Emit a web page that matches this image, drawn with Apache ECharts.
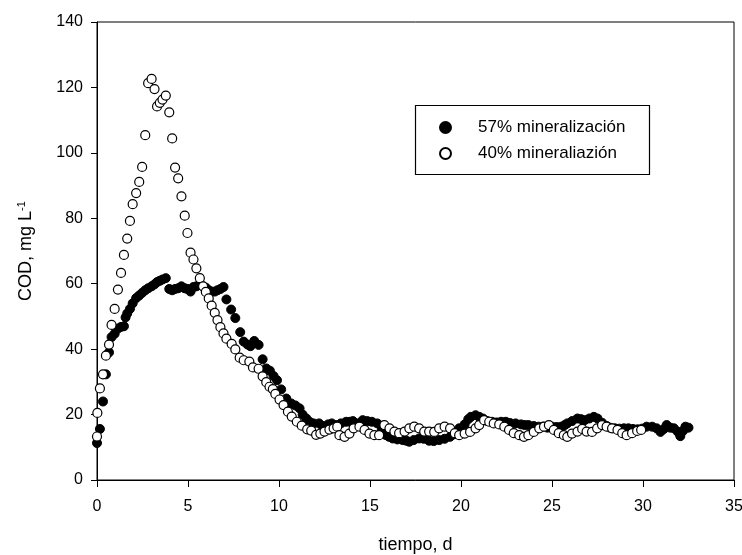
<!DOCTYPE html>
<html>
<head>
<meta charset="utf-8">
<script src="https://cdn.jsdelivr.net/npm/echarts@6/dist/echarts.min.js"></script>
<style>
html,body{margin:0;padding:0;background:#fff;}
#chart{width:742px;height:555px;}
</style>
</head>
<body>
<div id="chart"></div>
<script>
// Series: 57% mineralización (filled circles)
const t57 = [0.0,0.16,0.33,0.49,0.66,0.80,0.97,1.15,1.32,1.48,1.57,1.66,1.81,1.96,2.15,2.32,2.48,2.65,2.81,3.0,3.16,3.3,3.45,3.6,3.78,3.97,4.13,4.29,4.46,4.64,4.82,4.97,5.14,5.30,5.46,5.65,5.83,5.98,6.14,6.30,6.47,6.62,6.78,6.95,7.11,7.37,7.60,7.87,8.06,8.27,8.43,8.64,8.88,9.10,9.30,9.50,9.70,9.89,10.12,10.40,10.67,10.90,11.13,11.30,11.50,11.68,11.90,12.20,12.40,12.70,12.90,13.10,13.40,13.69,13.90,14.06,14.30,14.60,14.85,15.10,15.40,15.65,15.88,16.05,16.25,16.50,16.80,17.00,17.16,17.40,17.70,17.95,18.25,18.50,18.80,19.10,19.40,19.65,19.90,20.20,20.40,20.54,20.80,21.00,21.20,21.45,21.70,21.95,22.20,22.46,22.70,23.00,23.30,23.50,23.70,24.00,24.25,24.50,24.75,25.00,25.25,25.50,25.70,25.84,26.10,26.40,26.60,26.80,27.05,27.30,27.50,27.75,28.00,28.20,28.45,28.70,28.95,29.20,29.45,29.70,29.95,30.20,30.50,30.75,30.96,31.15,31.30,31.50,31.70,31.90,32.05,32.20,32.33,32.50];
const cod57 = [11.3,15.6,24.0,32.3,39.0,43.7,44.7,46.3,46.8,47.0,49.7,50.9,52.3,54.0,55.6,56.4,57.2,58.0,58.6,59.2,59.8,60.5,60.9,61.3,61.7,58.4,58.0,58.4,58.6,59.2,58.6,58.4,57.6,59.0,59.2,59.6,59.2,58.8,58.0,57.6,57.6,58.0,58.4,59.0,55.2,52.1,49.5,45.2,42.3,41.4,40.9,42.5,41.3,36.9,34.1,33.4,31.8,30.5,27.7,24.9,23.4,22.8,21.9,20.0,18.8,17.8,17.3,17.3,16.5,17.0,17.3,16.8,17.3,17.8,17.8,18.0,17.3,18.3,18.0,17.8,17.3,15.5,13.7,13.2,12.7,12.4,12.2,12.0,11.7,12.2,12.7,12.6,12.0,11.9,12.2,12.6,13.2,14.0,15.8,17.0,18.6,19.3,19.8,19.3,18.8,18.0,17.8,17.6,17.8,17.8,17.4,17.3,17.0,16.8,16.8,16.5,16.3,16.3,16.0,16.3,16.2,16.3,16.8,17.3,18.0,18.8,18.6,18.3,18.8,19.3,18.8,17.5,16.5,16.0,15.8,15.7,15.8,15.8,15.6,15.5,15.7,16.3,16.3,15.8,14.7,15.6,16.8,16.0,15.8,14.8,13.4,15.0,16.3,16.0];

// Series: 40% mineraliazión (open circles)
const t40 = [0.0,0.02,0.16,0.33,0.49,0.66,0.80,0.97,1.15,1.32,1.48,1.66,1.81,1.96,2.15,2.32,2.48,2.65,2.81,3.0,3.16,3.3,3.45,3.6,3.78,3.97,4.13,4.29,4.46,4.64,4.82,4.97,5.14,5.30,5.46,5.65,5.83,5.98,6.14,6.30,6.47,6.62,6.78,6.95,7.11,7.40,7.60,7.84,8.06,8.37,8.57,8.88,9.10,9.30,9.48,9.66,9.80,10.03,10.25,10.49,10.70,10.98,11.25,11.55,11.77,12.04,12.27,12.50,12.77,13.00,13.20,13.32,13.60,13.87,14.10,14.42,14.70,14.97,15.24,15.50,15.79,16.07,16.34,16.60,16.90,17.16,17.43,17.70,17.98,18.25,18.53,18.80,19.10,19.40,19.66,19.90,20.20,20.50,20.80,21.00,21.27,21.55,21.80,22.10,22.38,22.64,22.90,23.20,23.46,23.70,24.00,24.30,24.56,24.83,25.10,25.37,25.65,25.84,26.10,26.40,26.66,26.90,27.20,27.48,27.75,28.00,28.30,28.60,28.86,29.10,29.40,29.68,29.90];
const cod40 = [13.3,20.5,28.0,32.3,38.0,41.4,47.4,52.3,58.2,63.3,68.8,73.8,79.2,84.3,87.7,91.1,95.7,105.4,121.3,122.6,119.5,114.2,115.3,116.3,117.5,112.4,104.4,95.5,92.2,86.7,80.8,75.5,69.5,67.4,64.7,61.7,59.2,57.5,55.5,53.3,51.1,48.9,46.7,44.8,43.2,41.6,39.9,37.4,36.6,36.2,34.4,34.0,31.7,29.9,28.5,27.8,26.3,24.6,22.9,20.9,19.4,17.8,16.6,15.5,15.1,13.8,14.2,14.8,15.4,15.8,16.3,13.7,13.2,14.2,15.8,16.3,15.3,14.2,13.7,13.7,16.8,15.8,14.8,14.3,14.8,15.8,16.3,15.8,14.8,14.8,14.7,15.8,16.3,15.8,14.3,13.7,14.2,14.7,15.8,16.8,18.3,17.8,17.3,17.0,16.3,15.3,14.3,13.7,13.2,13.7,14.7,15.8,16.3,16.8,15.3,14.3,13.7,13.2,14.2,14.8,15.6,14.8,14.7,15.8,16.8,16.3,15.8,15.3,14.3,13.7,14.3,15.0,15.3];

const xTicks = [0,5,10,15,20,25,30,35];
const yTicks = [0,20,40,60,80,100,120,140];

const name57 = '57% mineralización';
const name40 = '40% mineraliazión';

const FONT = '"Liberation Sans", Arial, sans-serif';

const chart = echarts.init(document.getElementById('chart'), null, {renderer:'canvas'});
const pairs = (xs, ys) => xs.map((x, i) => [x, ys[i]]);

chart.setOption({
  animation: false,
  backgroundColor: '#fff',
  grid: {left: 97, right: 8, top: 22, bottom: 75, show: true, borderColor: '#000', borderWidth: 1, containLabel: false, outerBoundsMode: 'none'},
  graphic: [{
    type: 'rect', left: 413, top: 103,
    shape: {width: 234, height: 69},
    style: {fill: 'none', stroke: '#000', lineWidth: 1.2},
    z: 10
  }],
  legend: {
    orient: 'vertical', left: 434, top: 114, itemGap: 9,
    itemWidth: 11, itemHeight: 11,
    textStyle: {fontFamily: FONT, fontSize: 17, color: '#000', padding: [0, 0, 0, 22]},
    data: [{name: name57, icon: 'circle'}, {name: name40, icon: 'circle'}]
  },
  xAxis: {
    type: 'value', min: xTicks[0], max: xTicks[xTicks.length-1], interval: 5,
    name: 'tiempo, d', nameLocation: 'middle', nameGap: 56,
    nameTextStyle: {fontFamily: FONT, fontSize: 18, color: '#000'},
    axisLine: {show: true, lineStyle: {color: '#000', width: 1}},
    axisTick: {show: true, length: 7, lineStyle: {color: '#000'}},
    axisLabel: {fontFamily: FONT, fontSize: 16, color: '#000', margin: 19},
    splitLine: {show: false}
  },
  yAxis: {
    type: 'value', min: yTicks[0], max: yTicks[yTicks.length-1], interval: 20,
    name: 'COD, mg L{sup|-1}', nameLocation: 'middle', nameGap: 60,
    nameTextStyle: {fontFamily: FONT, fontSize: 18, color: '#000',
      rich: {sup: {fontFamily: FONT, fontSize: 11, color: '#000', verticalAlign: 'top', padding: [0, 0, 10, 0]}}},
    axisLine: {show: true, lineStyle: {color: '#000', width: 1}},
    axisTick: {show: true, length: 6, lineStyle: {color: '#000'}},
    axisLabel: {fontFamily: FONT, fontSize: 16, color: '#000', margin: 14},
    splitLine: {show: false}
  },
  series: [
    {
      name: name57, type: 'scatter', symbol: 'circle', symbolSize: 9,
      itemStyle: {color: '#000', borderColor: '#000', borderWidth: 1, opacity: 1},
      data: pairs(t57, cod57), z: 2
    },
    {
      name: name40, type: 'scatter', symbol: 'circle', symbolSize: 9,
      itemStyle: {color: '#fff', borderColor: '#000', borderWidth: 1.2, opacity: 1},
      data: pairs(t40, cod40), z: 3
    }
  ]
});
</script>
</body>
</html>
